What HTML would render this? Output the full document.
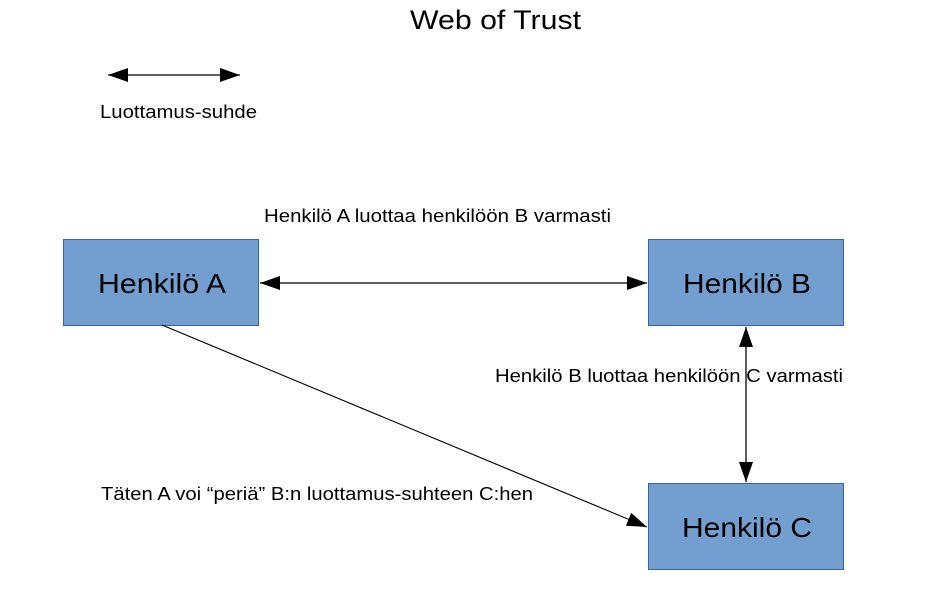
<!DOCTYPE html>
<html><head><meta charset="utf-8"><style>
html,body{margin:0;padding:0;background:#fff;}
svg{display:block;font-family:"Liberation Sans",sans-serif;}
</style></head><body>
<svg width="930" height="596" viewBox="0 0 930 596" xmlns="http://www.w3.org/2000/svg">
<defs>
<marker id="ah" viewBox="0 0 20 14" refX="20" refY="7" markerWidth="20" markerHeight="14" markerUnits="userSpaceOnUse" orient="auto-start-reverse">
<path d="M0,0 L20,7 L0,14 z" fill="#000"/>
</marker>
</defs>
<text x="410" y="29" font-size="27" textLength="171" lengthAdjust="spacingAndGlyphs" fill="#000">Web of Trust</text>
<line x1="108" y1="75" x2="240" y2="75" stroke="#000" stroke-width="1.3" marker-start="url(#ah)" marker-end="url(#ah)"/>
<text x="100" y="118" font-size="18" textLength="157" lengthAdjust="spacingAndGlyphs">Luottamus-suhde</text>

<text x="264" y="222" font-size="18" textLength="347" lengthAdjust="spacingAndGlyphs">Henkilö A luottaa henkilöön B varmasti</text>
<text x="495" y="382" font-size="18" textLength="348" lengthAdjust="spacingAndGlyphs">Henkilö B luottaa henkilöön C varmasti</text>
<text x="101" y="500" font-size="18" textLength="432" lengthAdjust="spacingAndGlyphs">Täten A voi “periä” B:n luottamus-suhteen C:hen</text>

<rect x="63.5" y="239.5" width="195" height="86" fill="#729fcf" stroke="#3465a4"/>
<rect x="648.5" y="239.5" width="195" height="86" fill="#729fcf" stroke="#3465a4"/>
<rect x="648.5" y="483.5" width="195" height="86" fill="#729fcf" stroke="#3465a4"/>
<text x="98" y="293" font-size="28" textLength="128" lengthAdjust="spacingAndGlyphs">Henkilö A</text>
<text x="683" y="293" font-size="28" textLength="128" lengthAdjust="spacingAndGlyphs">Henkilö B</text>
<text x="682" y="537" font-size="28" textLength="130" lengthAdjust="spacingAndGlyphs">Henkilö C</text>

<line x1="260" y1="283" x2="647" y2="283" stroke="#000" stroke-width="1.3" marker-start="url(#ah)" marker-end="url(#ah)"/>
<line x1="746" y1="327" x2="746" y2="482" stroke="#000" stroke-width="1.3" marker-start="url(#ah)" marker-end="url(#ah)"/>
<line x1="162" y1="325" x2="647" y2="527" stroke="#000" stroke-width="1.1" marker-end="url(#ah)"/>
</svg>
</body></html>
